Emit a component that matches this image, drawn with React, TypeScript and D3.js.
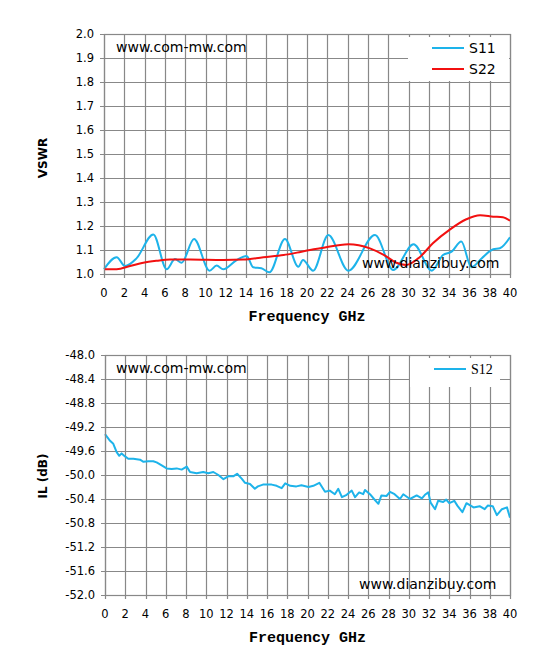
import * as d3 from 'd3';
import React, { useEffect, useRef } from 'react';

// frequencies in GHz
const s11Freq = [0, 1.25, 2.07, 3.2, 4.86, 6.17, 7.0, 7.65, 8.87, 10.4, 11.1, 11.75, 13.07, 14.05, 14.7, 15.5, 16.3, 17.83, 19.15, 19.6, 20.6, 22.1, 24.07, 26.7, 28.5, 30.5, 32.3, 33.4, 34.25, 35.2, 36.2, 37.2, 38.35, 39.0, 40];
const s11Vswr = [1.02, 1.07, 1.033, 1.065, 1.165, 1.02, 1.062, 1.047, 1.146, 1.014, 1.035, 1.02, 1.058, 1.075, 1.028, 1.024, 1.007, 1.146, 1.03, 1.058, 1.014, 1.162, 1.014, 1.162, 1.017, 1.124, 1.014, 1.079, 1.093, 1.135, 1.028, 1.065, 1.103, 1.107, 1.153];

const s22Freq = [0, 1.25, 2.56, 3.87, 5.2, 6.5, 8.5, 11.75, 13.7, 15.7, 17.7, 19.0, 20.3, 21.3, 24.1, 25.1, 26.2, 27.6, 28.8, 29.8, 31.1, 32.4, 34.1, 35.7, 37.05, 38.35, 39.3, 40];
const s22Vswr = [1.02, 1.02, 1.033, 1.047, 1.055, 1.06, 1.06, 1.058, 1.06, 1.07, 1.079, 1.089, 1.1, 1.107, 1.124, 1.12, 1.107, 1.079, 1.047, 1.038, 1.07, 1.128, 1.186, 1.228, 1.245, 1.239, 1.236, 1.222];

const s12Freq = [0, 0.5, 0.82, 1.15, 1.41, 1.64, 1.98, 2.3, 2.8, 3.46, 3.8, 4.28, 4.77, 5.1, 5.6, 6.09, 6.58, 7.08, 7.57, 8.07, 8.4, 9.05, 9.7, 10.2, 10.7, 11.2, 11.7, 12.2, 12.7, 13.05, 13.5, 13.83, 14.32, 14.8, 15.1, 15.6, 16.46, 16.95, 17.45, 17.8, 18.3, 18.9, 19.4, 20.1, 20.58, 21.17, 21.73, 22.2, 22.7, 23.04, 23.4, 23.87, 24.37, 24.7, 25.1, 25.5, 25.68, 26.17, 26.57, 27.0, 27.3, 27.8, 28.15, 28.6, 29.13, 29.46, 30.12, 30.78, 31.3, 31.6, 31.93, 32.16, 32.6, 32.9, 33.4, 33.7, 34.0, 34.5, 34.8, 35.3, 35.7, 36.4, 37.0, 37.5, 37.8, 38.3, 38.7, 39.2, 39.7, 40];
const s12Loss = [-49.32, -49.43, -49.48, -49.62, -49.68, -49.64, -49.69, -49.73, -49.73, -49.745, -49.78, -49.77, -49.77, -49.79, -49.84, -49.89, -49.9, -49.89, -49.91, -49.86, -49.95, -49.97, -49.95, -49.97, -49.95, -50.0, -50.07, -50.02, -50.02, -49.98, -50.06, -50.13, -50.15, -50.23, -50.19, -50.16, -50.16, -50.18, -50.22, -50.14, -50.18, -50.19, -50.17, -50.2, -50.18, -50.13, -50.28, -50.26, -50.32, -50.23, -50.37, -50.33, -50.26, -50.37, -50.29, -50.32, -50.25, -50.32, -50.4, -50.48, -50.34, -50.35, -50.28, -50.32, -50.4, -50.32, -50.4, -50.34, -50.39, -50.33, -50.29, -50.46, -50.57, -50.43, -50.45, -50.41, -50.47, -50.43, -50.51, -50.62, -50.47, -50.54, -50.52, -50.57, -50.51, -50.52, -50.67, -50.57, -50.54, -50.71];

const freqTicks = d3.range(0, 41, 2);
const vswrTicks = d3.range(10, 21).map((d) => d / 10);
const ilTicks = d3.range(0, 11).map((d) => -48 - d * 0.4);

const BLUE = '#1db3ea';
const RED = '#f21010';
const GRID = '#888888';

function drawPanel(svg: any, opt: any) {
    const x = d3.scaleLinear().domain([0, 40]).range([opt.left, opt.right]);
    const y = d3.scaleLinear().domain(opt.yDomain).range([opt.bottom, opt.top]);
    const g = svg.append('g');

    // grid
    g.selectAll('.vg').data(freqTicks).join('line')
        .attr('x1', (d: number) => Math.round(x(d)) + 0.5).attr('x2', (d: number) => Math.round(x(d)) + 0.5)
        .attr('y1', opt.top).attr('y2', opt.bottom + 4)
        .attr('stroke', GRID).attr('stroke-width', 1.2);
    g.selectAll('.hg').data(opt.yTicks).join('line')
        .attr('x1', opt.left - 4).attr('x2', opt.right)
        .attr('y1', (d: number) => Math.round(y(d)) + 0.5).attr('y2', (d: number) => Math.round(y(d)) + 0.5)
        .attr('stroke', GRID).attr('stroke-width', 1.2);

    // tick labels
    g.selectAll('.yl').data(opt.yTicks).join('text')
        .attr('x', opt.left - 10).attr('y', (d: number) => y(d) + 4)
        .attr('text-anchor', 'end')
        .style('font', '11.5px "DejaVu Sans"').attr('fill', '#000')
        .text((d: number) => d.toFixed(1));
    g.selectAll('.xl').data(freqTicks).join('text')
        .attr('x', (d: number) => x(d)).attr('y', opt.bottom + 23)
        .attr('text-anchor', 'middle')
        .style('font', '11.5px "DejaVu Sans"').attr('fill', '#000')
        .text((d: number) => d);

    // axis titles
    g.append('text')
        .attr('x', (opt.left + opt.right) / 2).attr('y', opt.bottom + 47)
        .attr('text-anchor', 'middle')
        .style('font', 'bold 15px "Liberation Mono"')
        .text('Frequency GHz');
    g.append('text')
        .attr('transform', `translate(47, ${opt.titleY}) rotate(-90)`)
        .attr('text-anchor', 'middle')
        .style('font', 'bold 12px "DejaVu Sans"')
        .text(opt.yTitle);

    // watermarks
    g.append('text').attr('x', 116).attr('y', opt.top + 18)
        .style('font', '14px "DejaVu Sans"').text('www.com-mw.com');

    // series
    opt.series.forEach((s: any) => {
        const line = d3.line<number>()
            .x((_d, i) => x(s.x[i]))
            .y((d) => y(d))
            .curve(s.smooth ? d3.curveMonotoneX : d3.curveLinear);
        g.append('path').attr('d', line(s.y))
            .attr('fill', 'none').attr('stroke', s.color)
            .attr('stroke-width', 2).attr('stroke-linejoin', 'round');
    });

    g.append('text').attr('x', opt.wm2x).attr('y', opt.bottom - 6)
        .style('font', '14px "DejaVu Sans"').text('www.dianzibuy.com');

    // legend
    const lg = opt.legend;
    g.append('rect').attr('x', lg.x).attr('y', lg.y).attr('width', lg.w).attr('height', lg.h).attr('fill', '#fff');
    opt.series.forEach((s: any, i: number) => {
        const ly = lg.y + 11 + i * 21;
        g.append('line').attr('x1', lg.x + 24).attr('x2', lg.x + 56)
            .attr('y1', ly).attr('y2', ly).attr('stroke', s.color).attr('stroke-width', 2);
        g.append('text').attr('x', lg.x + 61).attr('y', ly + 5)
            .style('font', lg.font).text(s.name);
    });

    // frame
    g.append('rect').attr('x', opt.left + 0.5).attr('y', opt.top + 0.5)
        .attr('width', opt.right - opt.left).attr('height', opt.bottom - opt.top)
        .attr('fill', 'none').attr('stroke', GRID).attr('stroke-width', 1.2);
}

export default () => {
    const ref = useRef<any>();

    useEffect(() => {
        const svg = d3.select<any, any>(ref.current);
        svg.selectAll('*').remove();

        drawPanel(svg, {
            left: 104, right: 510, top: 34, bottom: 274,
            yDomain: [1, 2], yTicks: vswrTicks, yTitle: 'VSWR', titleY: 158,
            wm2x: 362,
            legend: { x: 408, y: 37, w: 101, h: 44, font: '14px "DejaVu Sans"' },
            series: [
                { name: 'S11', x: s11Freq, y: s11Vswr, color: BLUE, smooth: true },
                { name: 'S22', x: s22Freq, y: s22Vswr, color: RED, smooth: true },
            ],
        });

        drawPanel(svg, {
            left: 105, right: 510, top: 355, bottom: 595,
            yDomain: [-52, -48], yTicks: ilTicks, yTitle: 'IL (dB)', titleY: 476,
            wm2x: 359,
            legend: { x: 410, y: 358, w: 90, h: 29, font: '14px "Liberation Serif"' },
            series: [
                { name: 'S12', x: s12Freq, y: s12Loss, color: BLUE, smooth: false },
            ],
        });
    });

    return (
        <svg ref={ref} width={535} height={666}
            style={{ position: 'absolute', left: 0, top: 0, background: '#fff' }}>
        </svg>
    );
};
